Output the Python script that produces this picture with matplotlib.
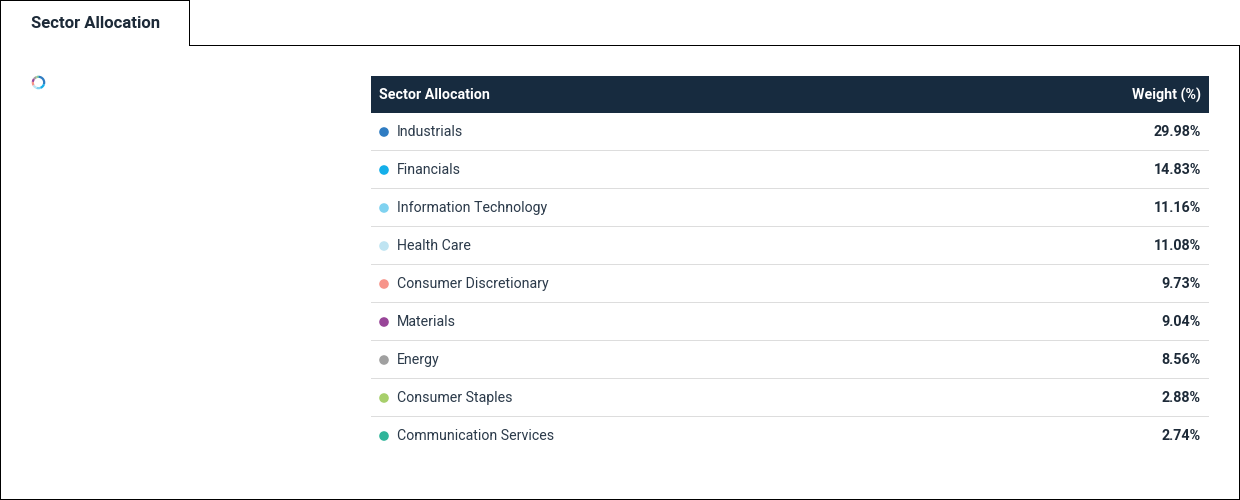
"""Sector allocation table with a small donut
"""
import matplotlib
matplotlib.use("Agg")
import matplotlib.pyplot as plt
from matplotlib.patches import Rectangle, Circle

# data
sectors = ["Industrials", "Financials", "Information Technology", "Health Care",
           "Consumer Discretionary", "Materials", "Energy", "Consumer Staples",
           "Communication Services"]
weights = [29.98, 14.83, 11.16, 11.08, 9.73, 9.04, 8.56, 2.88, 2.74]
colors = ["#2f7cc2", "#14afea", "#7fd2f0", "#bfe4f2", "#f7948a",
          "#984598", "#a0a0a0", "#a7cf6b", "#30b59a"]
title = "Sector Allocation"
header = ["Sector Allocation", "Weight (%)"]

W, H = 1240, 500
plt.rcParams['font.family'] = ['Roboto', 'DejaVu Sans']

fig = plt.figure(figsize=(W / 100, H / 100), dpi=100)
ax = fig.add_axes([0, 0, 1, 1])
ax.set_xlim(0, W)
ax.set_ylim(H, 0)
ax.axis("off")


def hline(x_a, x_b, y, color):
    ax.add_patch(Rectangle((x_a, y), x_b - x_a, 1, color=color, lw=0))


def vline(x, y_a, y_b, color):
    ax.add_patch(Rectangle((x, y_a), 1, y_b - y_a, color=color, lw=0))


# frame and tab
edge = "#000000"
vline(0, 0, H, edge)
hline(0, 190, 0, edge)
vline(189, 0, 46, edge)
hline(189, W, 45, edge)
vline(W - 1, 45, H, edge)
hline(0, W, H - 1, edge)
ax.text(31, 23, title, fontsize=12, fontweight="bold", color="#1d2a38",
        va="center", ha="left")

# table
x0, x1 = 371, 1209
head_top, head_h, row_h = 76, 37, 38
ax.add_patch(Rectangle((x0, head_top), x1 - x0, head_h, color="#172b3f", lw=0))
ax.text(379, head_top + head_h / 2 + 0.5, header[0], fontsize=10.3, fontweight="bold",
        color="white", va="center", ha="left")
ax.text(1201, head_top + head_h / 2 + 0.5, header[1], fontsize=10.3, fontweight="bold",
        color="white", va="center", ha="right")

for i, (name, w, c) in enumerate(zip(sectors, weights, colors)):
    top = head_top + head_h + i * row_h
    yc = top + row_h / 2
    ax.add_patch(Circle((384, yc), 4.8, color=c, lw=0))
    ax.text(397, yc, name, fontsize=10.2, color="#2b3a4a", va="center", ha="left")
    ax.text(1201, yc, f"{w:.2f}%", fontsize=10.3, fontweight="bold", color="#1d2a38",
            va="center", ha="right")
    if i < len(sectors) - 1:
        hline(x0, x1, top + row_h - 1, "#dddddd")

# tiny donut
dax = fig.add_axes([30 / W, 1 - 91 / H, 17 / W, 17 / H])
dax.pie(weights, colors=colors, startangle=90, counterclock=False,
        wedgeprops=dict(width=0.33, linewidth=0))
dax.set_aspect("equal")

fig.savefig("out.png", dpi=100)
